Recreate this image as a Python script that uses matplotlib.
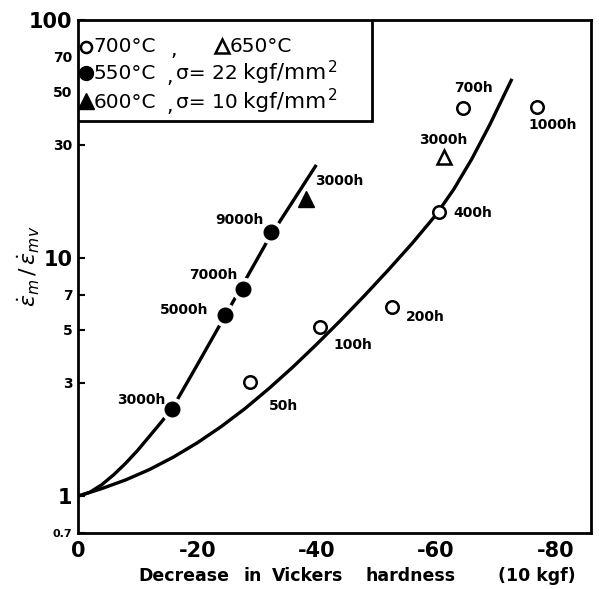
import matplotlib
matplotlib.use("Agg")
import matplotlib.pyplot as plt
from matplotlib.patches import Rectangle
from matplotlib.ticker import FixedLocator, NullLocator

# 550 degC, sigma = 22 kgf/mm2 (filled circles)
hv_550 = [-15.8, -24.6, -27.6, -32.4]
ratio_550 = [2.33, 5.79, 7.41, 12.9]
labels_550 = ["3000h", "5000h", "7000h", "9000h"]

# 600 degC, sigma = 10 kgf/mm2 (filled triangle)
hv_600 = [-38.2]
ratio_600 = [17.7]
labels_600 = ["3000h"]

# 700 degC (open circles)
hv_700 = [-28.9, -40.6, -52.7, -60.5, -64.5, -77.0]
ratio_700 = [3.02, 5.14, 6.24, 15.6, 42.8, 43.2]
labels_700 = ["50h", "100h", "200h", "400h", "700h", "1000h"]

# 650 degC (open triangle)
hv_650 = [-61.4]
ratio_650 = [26.5]
labels_650 = ["3000h"]

# hand-drawn trend curves
curve_a_x = [0, -2, -4, -6, -8, -10, -12, -14, -16, -20, -24, -28, -32, -36, -39.8]
curve_a_y = [1.0, 1.038, 1.117, 1.23, 1.374, 1.556, 1.786, 2.05, 2.38, 3.56, 5.35,
             8.04, 12.1, 17.3, 24.3]
curve_b_x = [0, -4, -8, -12, -16, -20, -24, -28, -32, -36, -40, -44, -48, -52,
             -56, -60, -63, -66, -69, -72.6]
curve_b_y = [1.0, 1.076, 1.17, 1.294, 1.459, 1.675, 1.959, 2.333, 2.831, 3.483,
             4.345, 5.47, 6.95, 8.91, 11.53, 15.2, 19.5, 26.1, 36.3, 55.8]

x_ticks = [0, -20, -40, -60, -80]
x_tick_labels = ["0", "-20", "-40", "-60", "-80"]
y_ticks = [0.7, 1, 3, 5, 7, 10, 30, 50, 70, 100]
y_tick_labels = ["0.7", "1", "3", "5", "7", "10", "30", "50", "70", "100"]

plt.rcParams["font.family"] = "DejaVu Sans"

fig = plt.figure(figsize=(5.99, 5.89), dpi=100)
ax = fig.add_axes([0.130, 0.095, 0.857, 0.871])

ax.set_yscale("log")
ax.set_xlim(0, -86)
ax.set_ylim(0.7, 100)

lw = 2.4
ax.plot(curve_a_x, curve_a_y, color="black", lw=lw, zorder=2)
ax.plot(curve_b_x, curve_b_y, color="black", lw=lw, zorder=2)

# white halos break the line around the filled points
ax.plot(hv_550, ratio_550, "o", ms=16, color="white", zorder=3)
ax.plot(hv_550, ratio_550, "o", ms=10.5, color="black", zorder=4)
ax.plot(hv_600, ratio_600, "^", ms=11, color="black", zorder=4)
ax.plot(hv_700, ratio_700, "o", ms=9, mfc="white", mec="black", mew=1.8, zorder=4)
ax.plot(hv_650, ratio_650, "^", ms=10, mfc="white", mec="black", mew=1.8, zorder=4)

lab_kw = dict(textcoords="offset points", va="center", fontsize=10, fontweight="bold")
offs_550 = [(-5, 6), (-11.5, 3.6), (-3.6, 10), (-5.5, 8.6)]
for x, y, s, o in zip(hv_550, ratio_550, labels_550, offs_550):
    ax.annotate(s, (x, y), xytext=o, ha="right", **lab_kw)
for x, y, s in zip(hv_600, ratio_600, labels_600):
    ax.annotate(s, (x, y), xytext=(6.5, 13), ha="left", **lab_kw)
offs_700 = [(13, -17), (9.4, -12.7), (10, -7), (10, -0.7), (8, 14), (11, -13)]
ha_700 = ["left", "left", "left", "left", "center", "center"]
for x, y, s, o, h in zip(hv_700, ratio_700, labels_700, offs_700, ha_700):
    ax.annotate(s, (x, y), xytext=o, ha=h, **lab_kw)
for x, y, s in zip(hv_650, ratio_650, labels_650):
    ax.annotate(s, (x, y), xytext=(-1, 12.7), ha="center", **lab_kw)

# axes styling
for sp in ax.spines.values():
    sp.set_linewidth(2.0)
ax.xaxis.set_major_locator(FixedLocator(x_ticks))
ax.set_xticklabels(x_tick_labels, fontsize=15, fontweight="bold")
ax.yaxis.set_major_locator(FixedLocator(y_ticks))
ax.yaxis.set_minor_locator(NullLocator())
ax.set_yticklabels(y_tick_labels)
for lbl in ax.get_yticklabels():
    t = lbl.get_text()
    lbl.set_fontweight("bold")
    if t in ("1", "10", "100"):
        lbl.set_fontsize(15)
    elif t == "0.7":
        lbl.set_fontsize(8)
    else:
        lbl.set_fontsize(10)
ax.tick_params(axis="both", direction="in", length=5, width=1.5, pad=4)
ax.tick_params(axis="x", length=0, pad=6)

ax.set_ylabel(r"$\dot{\varepsilon}_m\,/\,\dot{\varepsilon}_{mv}$", fontsize=16)
ax.yaxis.set_label_coords(-0.07, 0.52)

# x label, word by word to keep the wide spacing of the original
xlabel_words = ["Decrease", "in", "Vickers", "hardness", "(10 kgf)"]
xlabel_center_px = [184, 253, 308, 411, 537]
for w, px in zip(xlabel_words, xlabel_center_px):
    fig.text(px / 599, 1 - 581 / 589, w, fontsize=12.5, fontweight="bold",
             ha="center", va="baseline")

# key box in the upper left corner
ax.add_patch(Rectangle((0, 0.803), 0.572, 0.197, transform=ax.transAxes,
                       facecolor="white", edgecolor="black", lw=2.0, zorder=5))
tr = ax.transAxes
key_kw = dict(transform=tr, fontsize=14.5, va="center", ha="left", zorder=6)
row_y = [0.948, 0.896, 0.840]
ax.plot([0.016], [row_y[0]], "o", ms=8, mfc="white", mec="black", mew=1.8,
        transform=tr, zorder=6, clip_on=False)
ax.text(0.030, row_y[0], "700°C", **key_kw)
ax.text(0.180, row_y[0] - 0.008, ",", **key_kw)
ax.plot([0.280], [row_y[0] + 0.002], "^", ms=10, mfc="white", mec="black", mew=1.8,
        transform=tr, zorder=6, clip_on=False)
ax.text(0.296, row_y[0], "650°C", **key_kw)

ax.plot([0.016], [row_y[1]], "o", ms=10, color="black", transform=tr, zorder=6,
        clip_on=False)
ax.plot([0.016], [row_y[2] + 0.002], "^", ms=11, color="black", transform=tr,
        zorder=6, clip_on=False)
for y, temp, stress in zip(row_y[1:], ["550°C", "600°C"], ["22", "10"]):
    ax.text(0.030, y, temp, **key_kw)
    ax.text(0.172, y - 0.008, ",", **key_kw)
    ax.text(0.192, y, "σ= " + stress, **key_kw)
    ax.text(0.322, y, "kgf/mm", transform=tr, fontsize=15.5, va="center",
            ha="left", zorder=6)
    ax.text(0.487, y + 0.012, "2", transform=tr, fontsize=11, va="center",
            ha="left", zorder=6)

fig.savefig("out.png", dpi=100)
